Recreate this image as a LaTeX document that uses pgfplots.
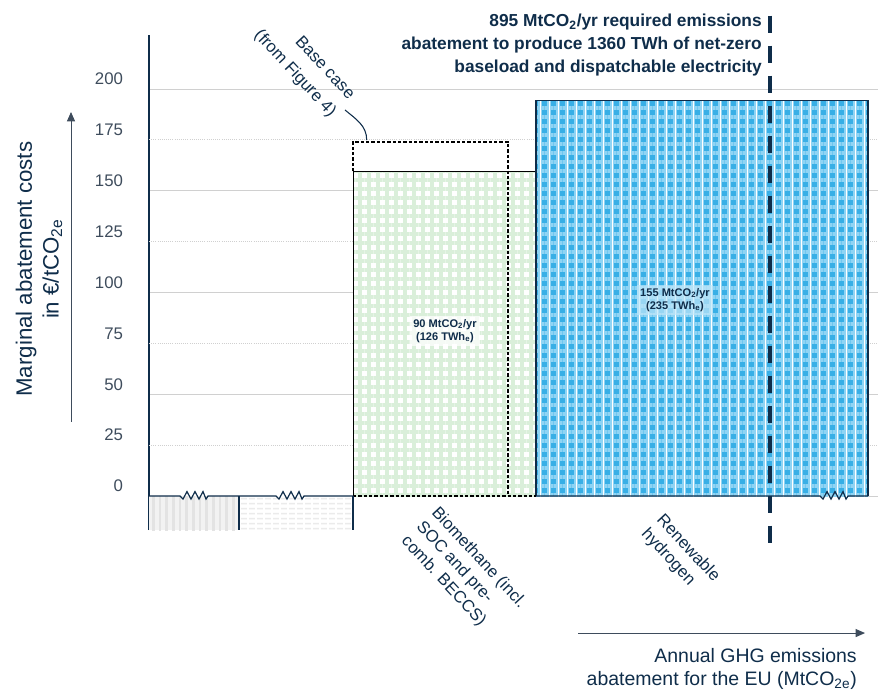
\documentclass[border=0pt]{standalone}
\usepackage{fontspec}
\setmainfont{Liberation Sans}
\usepackage{pgfplots}
\pgfplotsset{compat=1.18}
\usetikzlibrary{patterns.meta, arrows.meta}
\definecolor{navy}{HTML}{0F2D4A}
\definecolor{tickgray}{HTML}{3E4C5C}
\definecolor{hblue}{HTML}{38AFE6}
\definecolor{hbluelight}{HTML}{8FD4F4}
\definecolor{bgreen}{HTML}{DAEFDA}
\definecolor{gridgray}{HTML}{D0D0D0}
\begin{document}
\begin{tikzpicture}
\begin{axis}[
  scale only axis, width=546.75pt, height=371.25pt,
  xmin=0, xmax=729, ymin=-16.71, ymax=226.5,
  axis x line=none, axis y line*=left,
  axis line style={navy, line width=0.8pt},
  xtick=\empty,
  ytick={0,50,...,200},
  extra y ticks={25,75,125,175},
  extra y tick style={grid=major, major grid style={gridgray, densely dotted, line width=0.6pt}},
  ymajorgrids, major grid style={gridgray, line width=0.6pt},
  major tick length=0pt,
  tick label style={font=\fontsize{12.6}{14}\selectfont, text=tickgray},
  yticklabel style={anchor=east, xshift=-16pt, yshift=7.5pt},
  /pgf/number format/assume math mode=true,
  clip=false,
]
% bounding box of the whole picture
\path (axis cs:-149,-96.81) rectangle (axis cs:731,243.73);

% bar 1 (negative, truncated)
\addplot[draw=none, fill=gray!10,
  postaction={pattern={Lines[angle=90,distance=5pt,line width=2pt]}, pattern color=gray!22}]
  coordinates {(0,0) (0,-16.71) (90,-16.71) (90,0)};
% bar 2 (negative, truncated)
\addplot[draw=none, fill=white,
  postaction={pattern={Lines[angle=0,distance=4pt,line width=1.3pt]}, pattern color=gray!16},
  postaction={pattern={Lines[angle=90,distance=6pt,line width=1pt]}, pattern color=white}]
  coordinates {(90,0) (90,-16.71) (204,-16.71) (204,0)};
% biomethane
\addplot[draw=none, fill=white,
  postaction={pattern={Lines[angle=0,distance=6.75pt,line width=2.6pt]}, pattern color=bgreen},
  postaction={pattern={Lines[angle=90,distance=6.75pt,line width=2.6pt]}, pattern color=bgreen}]
  coordinates {(204,0) (204,159.5) (387,159.5) (387,0)};
\addplot[black, line width=0.7pt] coordinates {(204,0) (204,159.5) (387,159.5) (387,0)};
% renewable hydrogen
\addplot[draw=none, fill=hblue,
  postaction={pattern={Lines[angle=0,distance=6.75pt,line width=2.6pt]}, pattern color=hbluelight},
  postaction={pattern={Lines[angle=90,distance=6.75pt,line width=2.6pt]}, pattern color=hbluelight},
  postaction={pattern={Lines[angle=90,distance=6.75pt,line width=0.5pt]}, pattern color=white}]
  coordinates {(387,0) (387,194.5) (719,194.5) (719,0)};
\addplot[navy, line width=0.8pt] coordinates {(387,0) (387,194.5) (719,194.5) (719,0)};

% base case dashed box
\addplot[black, line width=0.9pt, dash pattern=on 2.5pt off 1.5pt]
  coordinates {(204,159.5) (204,174) (359,174) (359,0)};
\addplot[black, line width=0.9pt, dash pattern=on 2.5pt off 1.5pt]
  coordinates {(204,0) (387,0)};

% zero line with break symbols
\addplot[navy, line width=0.9pt] coordinates {(0,0) (31,0) (34,-1.5) (38,2.2) (42,-1.5) (46,2.2) (50,-1.5) (54,2.2) (57,-1.5) (59,0)
  (127,0) (130,-1.5) (134,2.2) (138,-1.5) (142,2.2) (146,-1.5) (150,2.2) (153,-1.5) (155,0) (204,0)};
\addplot[navy, line width=0.9pt] coordinates {(387,0) (671,0) (674,-1.5) (678,2.2) (682,-1.5) (686,2.2) (690,-1.5) (694,2.2) (697,-1.5) (699,0) (719,0)};
\addplot[navy, line width=0.8pt] coordinates {(90,0) (90,-16.71)};
\addplot[navy, line width=0.8pt] coordinates {(204,0) (204,-16.71)};

% 895 Mt dashed marker
\addplot[navy, line width=3pt, dash pattern=on 13.3pt off 9.2pt] coordinates {(621,236) (621,-23.6)};

% bar labels
\node[fill=white, fill opacity=0.75, text opacity=1, inner sep=2.5pt, align=center, text=navy,
  font=\bfseries\fontsize{8.3}{10}\selectfont] at (axis cs:296,81.1) {90 MtCO\textsubscript{2}/yr\\(126 TWh\textsubscript{e})};
\node[fill=hbluelight!55!white, fill opacity=0.7, text opacity=1, inner sep=2.5pt, align=center, text=navy,
  font=\bfseries\fontsize{8.3}{10}\selectfont] at (axis cs:526,96.3) {155 MtCO\textsubscript{2}/yr\\(235 TWh\textsubscript{e})};

% category labels
\node[rotate=-47, anchor=north west, align=left, inner sep=0pt, text=navy,
  font=\fontsize{12.6}{15.5}\selectfont] at (axis cs:291,-4.4) {Biomethane (incl.\\SOC and pre-\\comb. BECCS)};
\node[rotate=-47, anchor=north west, align=left, inner sep=0pt, text=navy,
  font=\fontsize{12.6}{15.5}\selectfont] at (axis cs:516,-7.9) {Renewable\\hydrogen};

% base case callout
\node[rotate=-47, anchor=north east, align=right, inner sep=0pt, text=navy,
  font=\fontsize{12.6}{19}\selectfont] at (axis cs:208,198.5) {Base case\\(from Figure 4)};
\draw[navy, line width=0.8pt] (axis cs:196,189.7) to[out=-40, in=90] (axis cs:217.7,174.9);

% title
\node[anchor=north east, align=right, inner sep=0pt, text=navy,
  font=\bfseries\fontsize{13}{17}\selectfont] at (axis cs:613,236.9)
  {895 MtCO\textsubscript{2}/yr required emissions\\abatement to produce 1360 TWh of net-zero\\baseload and dispatchable electricity};

% y label and arrow
\node[rotate=90, align=center, text=navy, font=\fontsize{16.7}{20}\selectfont]
  at (axis cs:-110,111.5) {Marginal abatement costs\\in €/tCO\textsubscript{2e}};
\draw[tickgray, line width=0.7pt, -{Triangle[length=7pt,width=6pt]}] (axis cs:-78,36.4) -- (axis cs:-78,188.7);

% x label and arrow
\draw[tickgray, line width=0.7pt, -{Triangle[length=7pt,width=6pt]}] (axis cs:429,-67.3) -- (axis cs:716,-67.3);
\node[anchor=north east, align=right, inner sep=0pt, text=navy, font=\fontsize{14.6}{17.5}\selectfont]
  at (axis cs:708,-74.7) {Annual GHG emissions\\abatement for the EU (MtCO\textsubscript{2e})};
\end{axis}
\end{tikzpicture}
\end{document}
